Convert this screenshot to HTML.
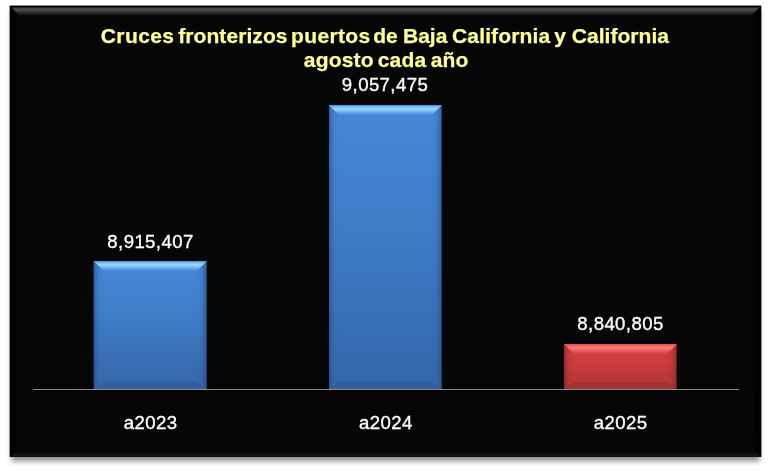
<!DOCTYPE html>
<html lang="es"><head><meta charset="utf-8"><title>Cruces fronterizos</title>
<style>
html,body{margin:0;padding:0;background:#fff;}
body{width:771px;height:471px;overflow:hidden;}
svg{display:block}
.title{font-family:"Liberation Sans",Arial,sans-serif;font-weight:bold;font-size:21px;fill:#ffff99;stroke:#ffff99;stroke-width:0.25px;text-anchor:start}
.lbl{font-family:"Liberation Sans",Arial,sans-serif;font-size:18.6px;fill:#ffffff;stroke:#ffffff;stroke-width:0.35px;text-anchor:middle;letter-spacing:0.4px}
</style></head><body>
<svg width="771" height="471" viewBox="0 0 771 471">
<defs>
<filter id="sh" x="-5%" y="-5%" width="110%" height="112%"><feGaussianBlur stdDeviation="2.6"/></filter>
<linearGradient id="bt" x1="0" y1="0" x2="0" y2="1"><stop offset="0" stop-color="#000"/><stop offset="0.1" stop-color="#050505"/><stop offset="0.32" stop-color="#525252"/><stop offset="0.5" stop-color="#464646"/><stop offset="1" stop-color="#060606"/></linearGradient>
<linearGradient id="bl" x1="0" y1="0" x2="1" y2="0"><stop offset="0" stop-color="#000"/><stop offset="0.5" stop-color="#010101"/><stop offset="1" stop-color="#060606"/></linearGradient>
<linearGradient id="br" x1="1" y1="0" x2="0" y2="0"><stop offset="0" stop-color="#000"/><stop offset="0.5" stop-color="#010101"/><stop offset="1" stop-color="#060606"/></linearGradient>
<linearGradient id="bbm" x1="0" y1="0" x2="0" y2="1"><stop offset="0" stop-color="#060606"/><stop offset="0.5" stop-color="#141414"/><stop offset="1" stop-color="#101010"/></linearGradient>
</defs>
<rect x="11.3" y="10.2" width="748.4" height="451.2" fill="#000" opacity="0.42" filter="url(#sh)"/>
<rect x="9.8" y="5.7" width="751.4" height="451.2" fill="#060606"/>
<polygon points="9.8,5.7 761.2,5.7 751.2,15.7 19.8,15.7" fill="url(#bt)"/>
<polygon points="9.8,5.7 17.8,14.7 17.8,451.9 9.8,456.9" fill="url(#bl)"/>
<polygon points="761.2,5.7 751.2,15.7 754.2,451.9 761.2,456.9" fill="url(#br)"/>
<polygon points="9.8,456.9 15.8,451.9 755.2,451.9 761.2,456.9" fill="url(#bbm)"/>
<text class="title" y="43"><tspan x="100.8" letter-spacing="0.4">Cruces</tspan> <tspan x="178.2" letter-spacing="0.08">fronterizos</tspan> <tspan x="291.1" letter-spacing="0.33">puertos</tspan> <tspan x="373.2">de</tspan> <tspan x="403">Baja</tspan> <tspan x="452" letter-spacing="0.15">California</tspan> <tspan x="554.2">y</tspan> <tspan x="571.7" letter-spacing="0.05">California</tspan></text>
<text class="title" y="66.9"><tspan x="303.8" letter-spacing="0.2">agosto</tspan> <tspan x="377.7" letter-spacing="0.25">cada</tspan> <tspan x="430.7" letter-spacing="0.2">año</tspan></text>
<rect x="32" y="388" width="708" height="3" fill="#000"/>

<g>
<defs>
<linearGradient id="fblue93" x1="0" y1="0" x2="0" y2="1"><stop offset="0" stop-color="#4586d7"/><stop offset="0.35" stop-color="#4080cc"/><stop offset="1" stop-color="#3566aa"/></linearGradient>
<linearGradient id="tblue93" x1="0" y1="0" x2="0" y2="1"><stop offset="0" stop-color="#4a8ce4"/><stop offset="0.32" stop-color="#94d8ff"/><stop offset="0.5" stop-color="#94d8ff" stop-opacity="0.85"/><stop offset="1" stop-color="#94d8ff" stop-opacity="0"/></linearGradient>
<linearGradient id="lblue93" x1="0" y1="0" x2="1" y2="0"><stop offset="0" stop-color="#264b80" stop-opacity="0.7"/><stop offset="0.2" stop-color="#264b80" stop-opacity="0.35"/><stop offset="0.5" stop-color="#264b80" stop-opacity="0.08"/><stop offset="1" stop-color="#264b80" stop-opacity="0"/></linearGradient>
<linearGradient id="rblue93" x1="1" y1="0" x2="0" y2="0"><stop offset="0" stop-color="#10223c" stop-opacity="0.95"/><stop offset="0.1" stop-color="#264b80" stop-opacity="0.6"/><stop offset="0.22" stop-color="#264b80" stop-opacity="0.42"/><stop offset="0.55" stop-color="#264b80" stop-opacity="0.1"/><stop offset="1" stop-color="#264b80" stop-opacity="0"/></linearGradient>
<linearGradient id="bblue93" x1="0" y1="1" x2="0" y2="0"><stop offset="0" stop-color="#2c5690" stop-opacity="0.3"/><stop offset="1" stop-color="#2c5690" stop-opacity="0.7"/></linearGradient>
</defs>
<rect x="93.8" y="261" width="113" height="128" fill="url(#fblue93)"/>
<polygon points="93.8,261 103.8,271 103.8,382 93.8,389" fill="url(#lblue93)"/>
<polygon points="206.8,261 196.8,271 196.8,382 206.8,389" fill="url(#rblue93)"/>
<polygon points="93.8,389 103.8,382 196.8,382 206.8,389" fill="url(#bblue93)"/>
<polygon points="93.8,261 206.8,261 196.8,271 103.8,271" fill="url(#tblue93)"/>
</g>

<g>
<defs>
<linearGradient id="fblue329" x1="0" y1="0" x2="0" y2="1"><stop offset="0" stop-color="#4586d7"/><stop offset="0.35" stop-color="#4080cc"/><stop offset="1" stop-color="#3566aa"/></linearGradient>
<linearGradient id="tblue329" x1="0" y1="0" x2="0" y2="1"><stop offset="0" stop-color="#4a8ce4"/><stop offset="0.32" stop-color="#94d8ff"/><stop offset="0.5" stop-color="#94d8ff" stop-opacity="0.85"/><stop offset="1" stop-color="#94d8ff" stop-opacity="0"/></linearGradient>
<linearGradient id="lblue329" x1="0" y1="0" x2="1" y2="0"><stop offset="0" stop-color="#264b80" stop-opacity="0.7"/><stop offset="0.2" stop-color="#264b80" stop-opacity="0.35"/><stop offset="0.5" stop-color="#264b80" stop-opacity="0.08"/><stop offset="1" stop-color="#264b80" stop-opacity="0"/></linearGradient>
<linearGradient id="rblue329" x1="1" y1="0" x2="0" y2="0"><stop offset="0" stop-color="#10223c" stop-opacity="0.95"/><stop offset="0.1" stop-color="#264b80" stop-opacity="0.6"/><stop offset="0.22" stop-color="#264b80" stop-opacity="0.42"/><stop offset="0.55" stop-color="#264b80" stop-opacity="0.1"/><stop offset="1" stop-color="#264b80" stop-opacity="0"/></linearGradient>
<linearGradient id="bblue329" x1="0" y1="1" x2="0" y2="0"><stop offset="0" stop-color="#2c5690" stop-opacity="0.3"/><stop offset="1" stop-color="#2c5690" stop-opacity="0.7"/></linearGradient>
</defs>
<rect x="329" y="105" width="112.9" height="284" fill="url(#fblue329)"/>
<polygon points="329,105 339,115 339,382 329,389" fill="url(#lblue329)"/>
<polygon points="441.9,105 431.9,115 431.9,382 441.9,389" fill="url(#rblue329)"/>
<polygon points="329,389 339,382 431.9,382 441.9,389" fill="url(#bblue329)"/>
<polygon points="329,105 441.9,105 431.9,115 339,115" fill="url(#tblue329)"/>
</g>

<g>
<defs>
<linearGradient id="fred564" x1="0" y1="0" x2="0" y2="1"><stop offset="0" stop-color="#d23f3f"/><stop offset="0.35" stop-color="#cc3d3d"/><stop offset="1" stop-color="#b23535"/></linearGradient>
<linearGradient id="tred564" x1="0" y1="0" x2="0" y2="1"><stop offset="0" stop-color="#e24c4c"/><stop offset="0.32" stop-color="#ff7a7a"/><stop offset="0.5" stop-color="#ff7a7a" stop-opacity="0.85"/><stop offset="1" stop-color="#ff7a7a" stop-opacity="0"/></linearGradient>
<linearGradient id="lred564" x1="0" y1="0" x2="1" y2="0"><stop offset="0" stop-color="#7c2424" stop-opacity="0.7"/><stop offset="0.2" stop-color="#7c2424" stop-opacity="0.35"/><stop offset="0.5" stop-color="#7c2424" stop-opacity="0.08"/><stop offset="1" stop-color="#7c2424" stop-opacity="0"/></linearGradient>
<linearGradient id="rred564" x1="1" y1="0" x2="0" y2="0"><stop offset="0" stop-color="#3c1010" stop-opacity="0.95"/><stop offset="0.1" stop-color="#7c2424" stop-opacity="0.6"/><stop offset="0.22" stop-color="#7c2424" stop-opacity="0.42"/><stop offset="0.55" stop-color="#7c2424" stop-opacity="0.1"/><stop offset="1" stop-color="#7c2424" stop-opacity="0"/></linearGradient>
<linearGradient id="bred564" x1="0" y1="1" x2="0" y2="0"><stop offset="0" stop-color="#8a2a2a" stop-opacity="0.3"/><stop offset="1" stop-color="#8a2a2a" stop-opacity="0.5"/></linearGradient>
</defs>
<rect x="564.2" y="344" width="112.6" height="45" fill="url(#fred564)"/>
<polygon points="564.2,344 574.2,354 574.2,382 564.2,389" fill="url(#lred564)"/>
<polygon points="676.8,344 666.8,354 666.8,382 676.8,389" fill="url(#rred564)"/>
<polygon points="564.2,389 574.2,382 666.8,382 676.8,389" fill="url(#bred564)"/>
<polygon points="564.2,344 676.8,344 666.8,354 574.2,354" fill="url(#tred564)"/>
</g>
<rect x="33" y="389" width="706" height="1" fill="#8e8e8e"/>
<text class="lbl" x="150.5" y="247.5">8,915,407</text>
<text class="lbl" x="385" y="90.5">9,057,475</text>
<text class="lbl" x="620.5" y="330">8,840,805</text>
<text class="lbl" x="150.7" y="428.6">a2023</text>
<text class="lbl" x="385.9" y="428.6">a2024</text>
<text class="lbl" x="620.7" y="428.6">a2025</text>
</svg>
</body></html>
